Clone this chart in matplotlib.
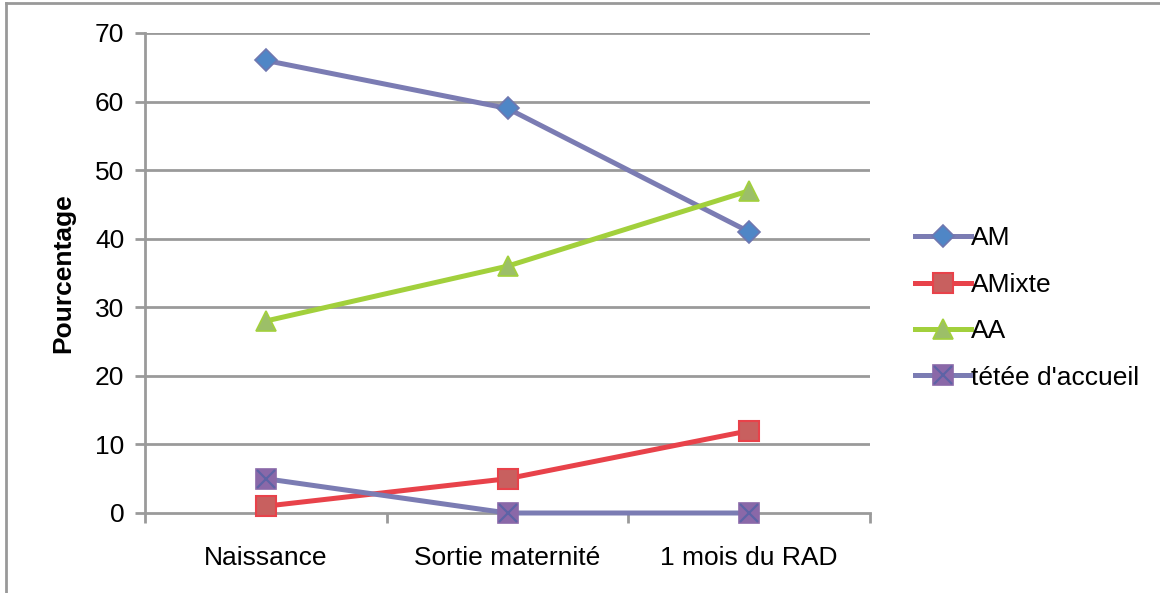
import matplotlib
matplotlib.use("Agg")
import matplotlib.pyplot as plt
from matplotlib.lines import Line2D

categories = ["Naissance", "Sortie maternité", "1 mois du RAD"]
am = [66, 59, 41]
amixte = [1, 5, 12]
aa = [28, 36, 47]
tetee = [5, 0, 0]
yticks = [0, 10, 20, 30, 40, 50, 60, 70]

plt.rcParams['font.family'] = ['Liberation Sans', 'DejaVu Sans']
W, H = 1160, 593
fig = plt.figure(figsize=(W/100, H/100), dpi=100)
ax = fig.add_axes([145/W, 1-513/H, (870-145)/W, (513-33)/H])

x = list(range(len(categories)))
grid_c = '#9a9a9a'
for v in yticks[1:]:
    ax.axhline(v, color=grid_c, lw=2, zorder=1)

lw = 3.6
fs = 19
h1, = ax.plot(x, am, color='#7b7cb3', lw=lw, marker='D', ms=11, mfc='#4f86c6',
              mec='#6f77b0', mew=1.2, zorder=3)
h2, = ax.plot(x, amixte, color='#e8424a', lw=lw, marker='s', ms=14, mfc='#c8605f',
              mec='#e8424a', mew=1.5, zorder=3)
h3, = ax.plot(x, aa, color='#a2d03c', lw=lw, marker='^', ms=15, mfc='#9cbf68',
              mec='#a2d03c', mew=1.2, zorder=3)
h4, = ax.plot(x, tetee, color='#7b7cb3', lw=lw, marker='s', ms=14, mfc='#8a68a8',
              mec='#8a68a8', mew=1.2, zorder=3)
h4x, = ax.plot(x, tetee, linestyle='none', marker='x', ms=13, color='#5d63a6',
               mec='#5d63a6', mew=1.6, zorder=5)
for h in (h1, h2, h3, h4, h4x):
    h.set_clip_on(False)

ax.set_xlim(-0.5, 2.5)
ax.set_ylim(0, 70)
ax.set_yticks(yticks)
ax.set_xticks(x)
ax.set_xticklabels(categories)
ax.set_xticks([-0.5, 0.5, 1.5, 2.5], minor=True)
ax.tick_params(axis='x', which='major', length=0, pad=24, labelsize=fs)
ax.tick_params(axis='x', which='minor', length=7, width=2, color=grid_c, direction='out')
ax.tick_params(axis='y', length=7, width=2, color=grid_c, labelsize=fs, pad=8)
for s in ['top', 'right']:
    ax.spines[s].set_visible(False)
ax.spines['left'].set_color(grid_c)
ax.spines['left'].set_linewidth(2)
ax.spines['bottom'].set_color(grid_c)
ax.spines['bottom'].set_linewidth(2)
ax.set_ylabel('Pourcentage', fontsize=fs, fontweight='bold', labelpad=14)

leg = ax.legend([h1, h2, h3, (h4, h4x)], ['AM', 'AMixte', 'AA', "tétée d'accueil"],
                loc='center left', bbox_to_anchor=(902/W, 1-308/H), bbox_transform=fig.transFigure,
                frameon=False, fontsize=fs, handlelength=2.1, handletextpad=0.0,
                labelspacing=0.85, borderpad=0)

fig.add_artist(Line2D([6/W, 6/W], [0, 1-3/H], transform=fig.transFigure, color='#999999', lw=2))
fig.add_artist(Line2D([6/W, 1], [1-3/H, 1-3/H], transform=fig.transFigure, color='#999999', lw=2))

fig.savefig('out.png', dpi=100)
